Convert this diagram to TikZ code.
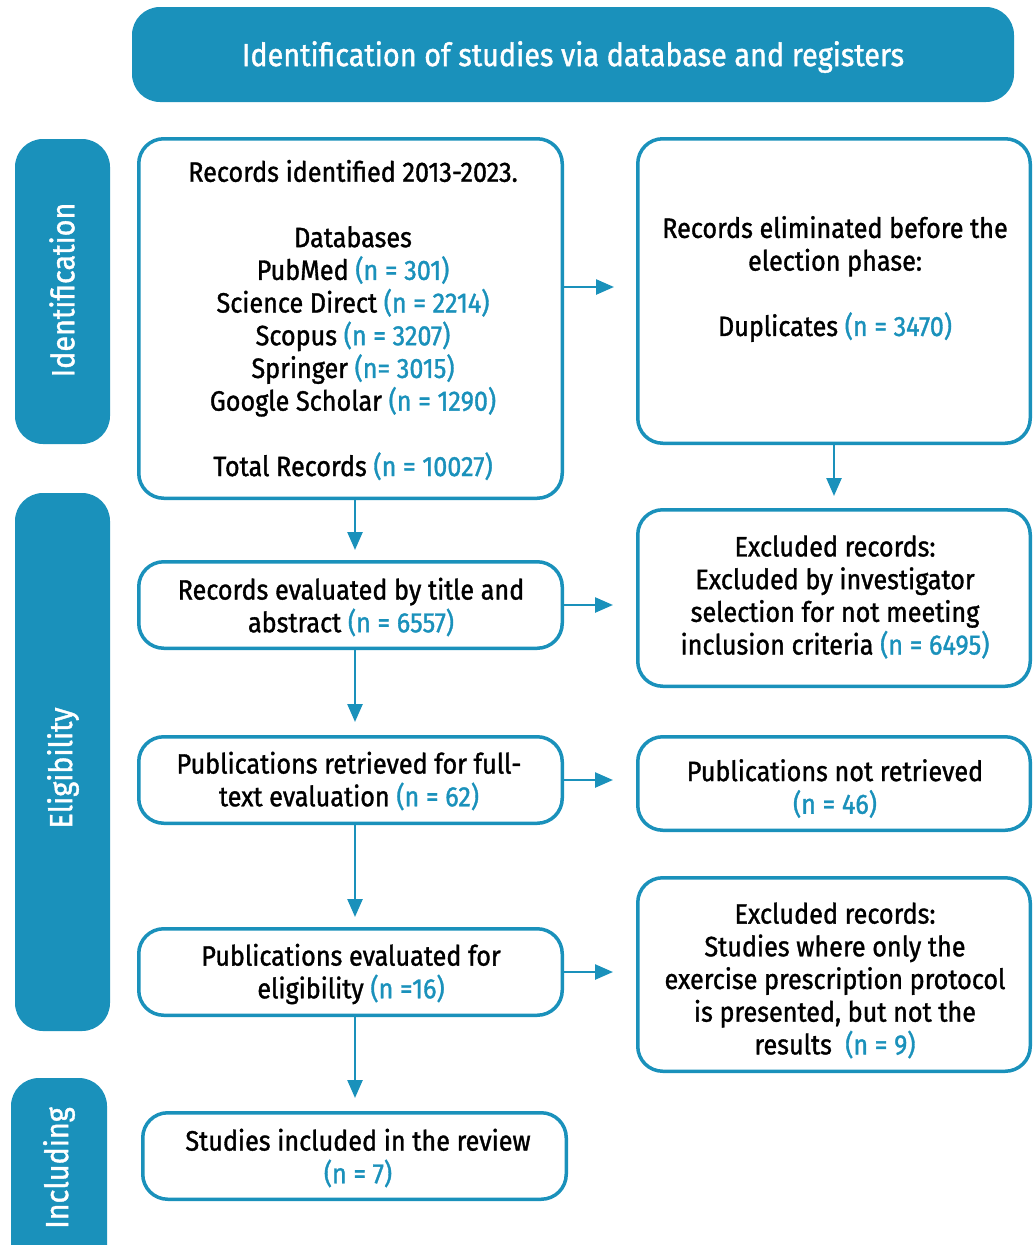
\documentclass[tikz,border=0pt]{standalone}
\usepackage{fontspec}
\setmainfont{Fira Sans}[FakeStretch=0.9, FakeBold=1.2]
\usetikzlibrary{arrows.meta}
\definecolor{pblue}{HTML}{1A91BB}
\newcommand{\nn}[1]{\textcolor{pblue}{#1}}
\begin{document}
\begin{tikzpicture}[x=1pt,y=-1pt,
  box/.style={draw=pblue, line width=3.5pt, rounded corners=25pt, fill=white, inner sep=0pt},
  sidebox/.style={fill=pblue, rounded corners=28pt, inner sep=0pt},
  txt/.style={align=center, font=\fontsize{28}{32.7}\selectfont, inner sep=0pt},
  headtxt/.style={text=white, font=\fontsize{32}{36}\selectfont, inner sep=0pt},
  arr/.style={draw=pblue, line width=2.5pt, -{Triangle[length=18pt,width=15pt]}}]
\useasboundingbox (0,0) rectangle (1034,1245);
% header and side bars
\node[sidebox, minimum width=882pt, minimum height=95pt] (head) at (573,54.5) {};
\node[headtxt] (headt) at (573,57) {Identification of studies via database and registers};
\node[sidebox, minimum width=95pt, minimum height=305pt] (sid) at (62.5,291.5) {};
\node[headtxt, rotate=90] (sidt) at (62,290) {Identification};
\node[sidebox, minimum width=95pt, minimum height=538pt] (sel) at (62.5,762) {};
\node[headtxt, rotate=90] (selt) at (63,768) {Eligibility};
\node[sidebox, minimum width=96pt, minimum height=197pt] (sin) at (59,1176.5) {};
\node[headtxt, rotate=90] (sint) at (59,1168) {Including};
% boxes
\node[box, minimum width=423.5pt, minimum height=359.5pt] (b1) at (350.5,318.5) {};
\node[box, minimum width=392.5pt, minimum height=304.5pt] (r1) at (834,291) {};
\node[box, minimum width=423.5pt, minimum height=86.5pt] (b2) at (350.5,605) {};
\node[box, minimum width=392.5pt, minimum height=176.5pt] (r2) at (834,598) {};
\node[box, minimum width=423.5pt, minimum height=86.5pt] (b3) at (350.5,780) {};
\node[box, minimum width=392.5pt, minimum height=93.5pt] (r3) at (834,783.5) {};
\node[box, minimum width=423.5pt, minimum height=86.5pt] (b4) at (350.5,972) {};
\node[box, minimum width=392.5pt, minimum height=193.5pt] (r4) at (834,974.5) {};
\node[box, minimum width=423.5pt, minimum height=86.5pt] (b5) at (354.5,1156) {};
% texts
\node[txt] (b1t) at (353,320) {Records identified 2013-2023.\\[32.7pt]
Databases\\
PubMed \nn{(n = 301)}\\
Science Direct \nn{(n = 2214)}\\
Scopus \nn{(n = 3207)}\\
Springer \nn{(n= 3015)}\\
Google Scholar \nn{(n = 1290)}\\[32.7pt]
Total Records \nn{(n = 10027)}};
\node[txt] (r1t) at (835,279) {Records eliminated before the\\ election phase:\\[32.7pt] Duplicates \nn{(n = 3470)}};
\node[txt] (r2t) at (835,597) {Excluded records:\\ Excluded by investigator\\ selection for not meeting\\ inclusion criteria \nn{(n = 6495)}};
\node[txt] (r3t) at (835,788.5) {Publications not retrieved\\ \nn{(n = 46)}};
\node[txt] (r4t) at (835,980.5) {Excluded records:\\ Studies where only the\\ exercise prescription protocol\\ is presented, but not the\\ results\ \ \nn{(n = 9)}};
\node[txt] (b2t) at (351,607) {Records evaluated by title and\\ abstract \nn{(n = 6557)}};
\node[txt] (b3t) at (349,781) {Publications retrieved for full-\\ text evaluation \nn{(n = 62)}};
\node[txt] (b4t) at (351,974) {Publications evaluated for\\ eligibility \nn{(n =16)}};
\node[txt] (b5t) at (358,1158) {Studies included in the review\\ \nn{(n = 7)}};
% arrows
\draw[arr, shorten >=22pt] ([yshift=4pt]r1.west -| b1.east) -- ([yshift=4pt]r1.west);
\draw[arr, shorten >=23pt] (b2.east) -- (b2.east -| r2.west);
\draw[arr, shorten >=23pt] (b3.east) -- (b3.east -| r3.west);
\draw[arr, shorten >=23pt] (b4.east) -- (b4.east -| r4.west);
\draw[arr, shorten >=12pt] (r1.south) -- (r2.north);
\draw[arr, shorten >=10pt] ([xshift=4.5pt]b1.south) -- ([xshift=4.5pt]b2.north);
\draw[arr, shorten >=13pt] ([xshift=4.5pt]b2.south) -- ([xshift=4.5pt]b3.north);
\draw[arr, shorten >=10pt] ([xshift=4.5pt]b3.south) -- ([xshift=4.5pt]b4.north);
\draw[arr, shorten >=13pt] ([xshift=4.5pt]b4.south) -- ([xshift=4.5pt]b4.south |- b5.north);
\end{tikzpicture}
\end{document}
